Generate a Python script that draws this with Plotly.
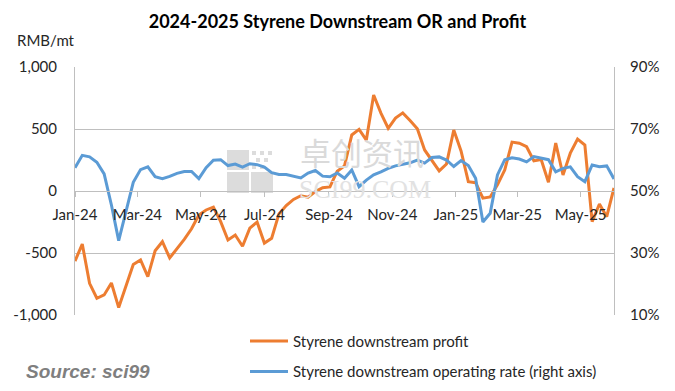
import pandas as pd
import plotly.graph_objects as go

# ---- data (weekly) ----
start_date = "2024-01-05"
n_weeks = 75
dates = pd.date_range(start_date, periods=n_weeks, freq="7D")

profit = [-565, -428, -745, -865, -838, -742, -940, -771, -593, -556,
          -691, -482, -409, -540, -468, -390, -305, -194, -153, -130,
          -247, -395, -355, -446, -300, -250, -420, -381, -185, -118,
          -68, -38, -50, -5, 27, 33, 160, 202, 452, 497,
          411, 774, 628, 506, 588, 630, 568, 502, 331, 250,
          162, 217, 492, 323, 75, 67, -58, -48, 50, 170,
          394, 385, 357, 243, 254, 71, 386, 129, 305, 418,
          371, -247, -105, -207, 25]

operating_rate = [57.5, 61.5, 61.0, 59.3, 55.5, 45.5, 34.0, 43.3, 52.8, 56.9,
                  57.8, 54.6, 54.0, 54.7, 55.7, 56.3, 56.3, 54.0, 57.5, 59.9,
                  60.1, 58.2, 58.7, 57.7, 58.8, 58.5, 57.7, 55.9, 55.3, 55.3,
                  54.8, 54.2, 55.8, 56.6, 54.8, 54.6, 55.8, 54.1, 56.8, 51.4,
                  53.5, 55.2, 56.2, 57.3, 58.1, 58.7, 59.1, 60.0, 59.0, 60.8,
                  61.0, 60.0, 57.9, 59.8, 58.2, 54.1, 40.0, 42.8, 55.2, 60.1,
                  60.7, 60.3, 59.4, 61.1, 60.7, 60.1, 56.2, 57.3, 57.8, 54.6,
                  53.0, 58.4, 57.8, 58.1, 53.9]

left_ticks = [-1000, -500, 0, 500, 1000]
left_ticktext = ["-1,000", "-500", "0", "500", "1,000"]
right_ticks = [10, 30, 50, 70, 90]
right_ticktext = ["10%", "30%", "50%", "70%", "90%"]

series_names = ["Styrene downstream profit",
                "Styrene downstream operating rate (right axis)"]
title_text = "2024-2025 Styrene Downstream OR and Profit"

FONT = "Lato"
GRID = "#BFBFBF"
TXT = "#262626"

fig = go.Figure()
fig.add_trace(go.Scatter(x=dates, y=profit, name=series_names[0], mode="lines",
                         line=dict(color="#ED7D31", width=3),
                         legendgroup="a", yaxis="y"))
fig.add_trace(go.Scatter(x=dates, y=operating_rate, name=series_names[1], mode="lines",
                         line=dict(color="#5B9BD5", width=3),
                         legendgroup="b", yaxis="y2"))

fig.update_layout(
    width=675, height=391,
    margin=dict(l=75, r=61, t=67, b=76, autoexpand=False),
    paper_bgcolor="white", plot_bgcolor="white",
    font=dict(family=FONT, size=15, color=TXT),
    title=dict(text="<b>" + title_text + "</b>", x=0.5, xref="container",
               xanchor="center", y=1 - 22 / 391, yanchor="middle",
               font=dict(family=FONT, size=18, color="#000000")),
    showlegend=True,
    legend=dict(orientation="v", x=(245 - 75) / 539, xanchor="left",
                y=-0.039, yanchor="top", font=dict(family=FONT, size=15, color=TXT),
                tracegroupgap=8, itemwidth=38, bgcolor="rgba(0,0,0,0)"),
    xaxis=dict(type="date", range=[dates[0], dates[-1]], tick0=dates[0], dtick="M2",
               tickformat="%b-%y", anchor="free", position=0.5,
               showline=True, linecolor=GRID, linewidth=1,
               ticks="outside", ticklen=5, tickcolor=GRID, showgrid=False,
               zeroline=False, ticklabelstandoff=5,
               tickfont=dict(family=FONT, size=15, color=TXT)),
    yaxis=dict(range=[-1000, 1000], tickvals=left_ticks, ticktext=left_ticktext,
               showgrid=True, gridcolor=GRID, gridwidth=1, zeroline=False,
               showline=True, linecolor=GRID, ticks="", ticklabelstandoff=14,
               tickfont=dict(family=FONT, size=15, color=TXT)),
    yaxis2=dict(range=[10, 90], tickvals=right_ticks, ticktext=right_ticktext,
                overlaying="y", side="right", showgrid=False, zeroline=False,
                showline=True, linecolor=GRID, ticks="", ticklabelstandoff=12,
                tickfont=dict(family=FONT, size=15, color=TXT)),
)

# watermark logo squares (decorative, behind the lines)
def px2x(px):
    return (px - 75) / 539

def py2y(py):
    return (315 - py) / 248

for (x0, y0, x1, y1) in [(227, 150, 249, 170), (227, 172, 249, 193), (251, 172, 273, 193)]:
    fig.add_shape(type="rect", xref="paper", yref="paper",
                  x0=px2x(x0), x1=px2x(x1), y0=py2y(y1), y1=py2y(y0),
                  fillcolor="#DCDCDC", line=dict(width=0), layer="below")
for (cx, cy) in [(254, 153), (262, 153), (270, 153), (258, 160), (266, 160), (254, 167), (262, 167)]:
    fig.add_shape(type="rect", xref="paper", yref="paper",
                  x0=px2x(cx - 2), x1=px2x(cx + 2), y0=py2y(cy + 2), y1=py2y(cy - 2),
                  fillcolor="#DCDCDC", line=dict(width=0), layer="below")

fig.add_annotation(text="卓创资讯", xref="paper", yref="paper", x=px2x(362), y=py2y(175),
                   yanchor="bottom", borderpad=0, showarrow=False,
                   font=dict(family="Noto Sans CJK SC", size=31, color="#DADADA"))
fig.add_annotation(text="SCI99.COM", xref="paper", yref="paper", x=px2x(365), y=py2y(174),
                   yanchor="top", borderpad=0, showarrow=False,
                   font=dict(family="Liberation Serif", size=26, color="#E2E2E2"))

fig.add_annotation(text="RMB/mt", xref="paper", yref="paper", x=px2x(15), y=py2y(40),
                   xanchor="left", yanchor="middle", showarrow=False,
                   font=dict(family=FONT, size=15, color=TXT))
fig.add_annotation(text="<b><i>Source: sci99</i></b>", xref="paper", yref="paper",
                   x=px2x(24), y=py2y(371), xanchor="left", yanchor="middle", showarrow=False,
                   font=dict(family="Liberation Sans", size=19, color="#7F7F7F"))

fig.write_html("out.html", config={"displayModeBar": False},
               post_script="document.body.style.margin='0';")
